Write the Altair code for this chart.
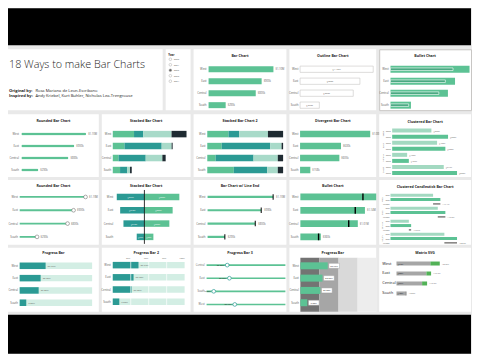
import altair as alt
import pandas as pd

# ------------------------------------------------------------------ data
regions = ["West", "East", "Central", "South"]
years = ["2020", "2021", "2022", "2023", "2024"]
selected_year = "2022"
main_title = "18 Ways to make Bar Charts"
credit_bold = ["Original by:", "Inspired by:"]
credit_names = ["Rosa Mariana de Leon-Escribano",
                "Andy Kriebel, Kurt Buhler, Nicholas Lea-Trengrouse"]

sales = [1100000, 900000, 800000, 290000]
profit = [1080000, 630000, 605000, 158000]
bullet_actual = [1100000, 965000, 850000, 320000]
bullet_target = [1390000, 1135000, 1010000, 360000]
stack_a = [213, 117, 57, 73]
stack_b = [93, 373, 273, 73]
stack_c = [283, 100, 167, 27]
stack_d = [150, 10, 33, 17]
pct_a = [28, 19, 11, 35]
pct_b = [14, 64, 50, 44]
pct_c = [38, 15, 32, 14]
pct_d = [20, 2, 7, 7]
div_neg = [277, 243, 210, 77]
div_pos = [350, 283, 250, 90]
clus_years = ["2022", "2023"]
clus_prev = [393, 450, 150, 517]
clus_curr = [560, 533, 167, 650]
candle_rows = ["2022", "2023", "Change"]
candle_prev = [427, 474, 184, 540]
candle_curr = [500, 550, 207, 667]
share = [35.79, 28.93, 26.20, 9.08]
grid_ticks = [25, 50, 75, 100]
band_from = [0, 25, 50, 75]
band_to = [25, 50, 75, 100]
matrix_prev = [340, 300, 257, 100]
matrix_curr = [434, 347, 307, 90]

# ------------------------------------------------------------------ style
FONT = "Segoe UI, Open Sans, DejaVu Sans, sans-serif"
INK = "#252423"
SUB = "#605e5c"
GREEN = "#5cc294"
TEAL = "#2b9a94"
PALE = "#a8dac9"
LIGHT = "#a3d9c1"
MINT = "#d3eee4"
DARK = "#1f2b32"
BG = "#e9e9e9"
BAND_COLORS = ["#737373", "#a6a6a6", "#d9d9d9", "#ededed"]

W = [91, 89, 93, 87, 92]
H = [61, 63, 65, 64]

reg_df = pd.DataFrame({"r": regions})


def Yp(rng, domain=None, field="r"):
    return alt.Y(f"{field}:N",
                 scale=alt.Scale(type="point", domain=domain if domain is not None else regions,
                                 range=rng, padding=0), axis=None)


def Xq(field, dom, rng):
    return alt.X(f"{field}:Q", scale=alt.Scale(domain=dom, range=rng, nice=False), axis=None)


def head(text, w, y=7.0):
    return alt.Chart(pd.DataFrame({"t": [text]})).mark_text(
        font=FONT, fontSize=3.6, fontWeight="bold", color=INK, baseline="middle"
    ).encode(text="t:N", x=alt.value(w / 2), y=alt.value(y))


def names(y, x, size=2.8, df=None, field="r", align="right", color=SUB, angle=None):
    kw = dict(font=FONT, fontSize=size, color=color, align=align, baseline="middle")
    if angle is not None:
        kw["angle"] = angle
    return alt.Chart(df if df is not None else reg_df).mark_text(**kw).encode(
        text=f"{field}:N", x=alt.value(x), y=y)


def vals(df, x, y, text, dx=2.0, size=2.6, color=SUB, align="left", fmt=None, clip=False):
    t = alt.Text(text, format=fmt) if fmt else alt.Text(text)
    return alt.Chart(df).mark_text(font=FONT, fontSize=size, color=color, align=align,
                                   baseline="middle", dx=dx, clip=clip).encode(x=x, y=y, text=t)


def panel(layers, w, h, stroke=None, indep_y=False):
    if stroke:
        vb = alt.ViewBackground(fill="white", stroke=stroke, strokeWidth=1)
    else:
        vb = alt.ViewBackground(fill="white")
    ch = alt.layer(*layers).properties(width=w, height=h, view=vb)
    if indep_y:
        ch = ch.resolve_scale(y="independent")
    return ch


def stack_df(cols, colors):
    rows = []
    for i, r in enumerate(regions):
        acc = 0
        for col, c in zip(cols, colors):
            rows.append({"r": r, "x0": acc, "x1": acc + col[i], "c": c})
            acc += col[i]
    return pd.DataFrame(rows)


sdf = pd.DataFrame({"r": regions, "v": sales})
SDOM = [0, 1100000]

# ================================================================== ROW 1
t_big = alt.Chart(pd.DataFrame({"t": [main_title]})).mark_text(
    font="Open Sans, DejaVu Sans, sans-serif", fontSize=10.8, fontWeight=300, color=INK, align="left",
    baseline="alphabetic"
).encode(text="t:N", x=alt.value(1), y=alt.value(18.5))
cred = pd.DataFrame({"b": credit_bold, "n": credit_names, "i": [0, 1]})
yc = alt.Y("i:O", scale=alt.Scale(type="point", domain=[0, 1], range=[41.5, 46.5], padding=0), axis=None)
c_bold = alt.Chart(cred).mark_text(font=FONT, fontSize=4.1, fontWeight="bold", color=INK,
                                   align="left", baseline="middle").encode(text="b:N", x=alt.value(1), y=yc)
c_norm = alt.Chart(cred).mark_text(font=FONT, fontSize=4.1, color=INK,
                                   align="left", baseline="middle").encode(text="n:N", x=alt.value(27.5), y=yc)
p_title = panel([t_big, c_bold, c_norm], 155, H[0])

ydf = pd.DataFrame({"y": years})
ydf["f"] = [INK if yv == selected_year else "white" for yv in years]
yy = Yp([10, 32], years, "y")
s_head = alt.Chart(pd.DataFrame({"t": ["Year"]})).mark_text(
    font=FONT, fontSize=2.8, fontWeight="bold", color=INK, align="left", baseline="middle"
).encode(text="t:N", x=alt.value(2.5), y=alt.value(5.5))
s_dots = alt.Chart(ydf).mark_point(filled=True, size=7, stroke="#8a8886", strokeWidth=0.5).encode(
    x=alt.value(4.7), y=yy, fill=alt.Fill("f:N", scale=None))
s_lab = names(yy, 8, size=2.4, df=ydf, field="y", align="left")
p_slicer = panel([s_head, s_dots, s_lab], 25, H[0])

y = Yp([20, 56]); x = Xq("v", SDOM, [15, 80])
p_bar = panel([head("Bar Chart", W[2]),
               alt.Chart(sdf).mark_bar(size=6, color=GREEN).encode(x=x, y=y),
               vals(sdf, x, y, "v:Q", fmt="$.3s"), names(y, 13)], W[2], H[0])

x = Xq("v", SDOM, [10.7, 84]); xm = Xq("m", SDOM, [10.7, 84])
p_outline = panel([head("Outline Bar Chart", W[3]),
                   alt.Chart(sdf).mark_bar(size=6.3, fill="white", stroke="#c8c6c4", strokeWidth=0.6).encode(x=x, y=y),
                   alt.Chart(sdf).transform_calculate(m="datum.v/2").mark_text(
                       font=FONT, fontSize=2.4, color=SUB, baseline="middle").encode(
                       x=xm, y=y, text=alt.Text("v:Q", format="$.3s")),
                   names(y, 9)], W[3], H[0])

bdf = pd.DataFrame({"r": regions, "a": bullet_actual, "t": bullet_target})
xt = Xq("t", SDOM, [11.3, 74]); xa = Xq("a", SDOM, [11.3, 74])
p_bullet1 = panel([head("Bullet Chart", W[4]),
                   alt.Chart(bdf).mark_bar(size=7, color=GREEN).encode(x=xt, y=y),
                   alt.Chart(bdf).mark_bar(size=2.6, fill="#4aa982", stroke="white", strokeWidth=0.6).encode(x=xa, y=y),
                   names(y, 9.5)], W[4], H[0], stroke="#c8c6c4")

row1 = alt.hconcat(p_title, p_slicer, p_bar, p_outline, p_bullet1, spacing=3, bounds="flush")

# ================================================================== ROW 2
y = Yp([20, 56])
x = Xq("v", SDOM, [13.3, 78.3])
p_round = panel([head("Rounded Bar Chart", W[0]),
                 alt.Chart(sdf).mark_bar(size=3, cornerRadius=1.5, color=GREEN).encode(x=x, y=y),
                 vals(sdf, x, y, "v:Q", fmt="$.3s"), names(y, 11)], W[0], H[1])

st = stack_df([stack_a, stack_b, stack_c, stack_d], [GREEN, TEAL, PALE, DARK])
x0 = Xq("x0", [0, 850], [11, 96])
p_stack = panel([head("Stacked Bar Chart", W[1]),
                 alt.Chart(st).mark_bar(size=6.5).encode(x=x0, x2="x1:Q", y=y,
                                                         color=alt.Color("c:N", scale=None)),
                 names(y, 9.5)], W[1], H[1])

st2 = stack_df([pct_a, pct_b, pct_c, pct_d], [GREEN, TEAL, PALE, DARK])
x0 = Xq("x0", [0, 100], [13.7, 89.7])
p_stack2 = panel([head("Stacked Bar Chart 2", W[2]),
                  alt.Chart(st2).mark_bar(size=6.5).encode(x=x0, x2="x1:Q", y=y,
                                                           color=alt.Color("c:N", scale=None)),
                  names(y, 12)], W[2], H[1])

pdf_ = pd.DataFrame({"r": regions, "v": profit})
x = Xq("v", [0, 1080000], [10.7, 81])
p_div = panel([head("Divergent Bar Chart", W[3]),
               alt.Chart(pdf_).mark_bar(size=6.5, color=GREEN).encode(x=x, y=y),
               vals(pdf_, x, y, "v:Q", fmt="$.3s"), names(y, 9)], W[3], H[1])

rows = []
for i, r in enumerate(regions):
    rows.append({"r": r, "yr": clus_years[0], "k": f"{r}|{clus_years[0]}", "v": clus_prev[i], "c": LIGHT})
    rows.append({"r": r, "yr": clus_years[1], "k": f"{r}|{clus_years[1]}", "v": clus_curr[i], "c": GREEN})
cdf = pd.DataFrame(rows)
yk = Yp([16.5, 59], list(cdf.k), "k")
x = Xq("v", [0, 1000], [13, 113])
p_clus = panel([head("Clustered Bar Chart", W[4], 7.5),
                alt.Chart(cdf).mark_bar(size=4).encode(x=x, y=yk, color=alt.Color("c:N", scale=None)),
                alt.Chart(cdf).transform_calculate(lab="'$' + datum.v + 'K'").mark_text(
                    font=FONT, fontSize=2.2, color=SUB, align="left", baseline="middle", dx=2).encode(
                    x=x, y=yk, text="lab:N"),
                names(yk, 11.5, size=2.2, df=cdf, field="yr"),
                names(Yp([19.5, 55.9]), 3.5, size=2.3, angle=270, align="center")],
               W[4], H[1], indep_y=True)

row2 = alt.hconcat(p_round, p_stack, p_stack2, p_div, p_clus, spacing=3, bounds="flush")

# ================================================================== ROW 3
y = Yp([17, 57])
x = Xq("v", SDOM, [11.7, 77.7])
p_lolli = panel([head("Rounded Bar Chart", W[0], 6),
                 alt.Chart(sdf).mark_bar(size=1.8, color=GREEN).encode(x=x, y=y),
                 alt.Chart(sdf).mark_point(filled=True, fill="white", stroke=SUB, strokeWidth=0.5,
                                           size=14, opacity=1).encode(x=x, y=y),
                 vals(sdf, x, y, "v:Q", fmt="$.3s", dx=3.5), names(y, 10)], W[0], H[2])

drows = []
for i, r in enumerate(regions):
    drows.append({"r": r, "x0": -div_neg[i], "x1": 0, "c": TEAL, "lab": f"${div_neg[i]}K"})
    drows.append({"r": r, "x0": 0, "x1": div_pos[i], "c": GREEN, "lab": f"${div_pos[i]}K"})
ddf = pd.DataFrame(drows)
DDOM, DRNG = [-400, 500], [2.7, 92.7]
p_dstack = panel([head("Stacked Bar Chart", W[1], 6),
                  alt.Chart(ddf).mark_bar(size=6.5).encode(x=Xq("x0", DDOM, DRNG), x2="x1:Q", y=y,
                                                           color=alt.Color("c:N", scale=None)),
                  alt.Chart(ddf).transform_calculate(m="(datum.x0 + datum.x1)/2").mark_text(
                      font=FONT, fontSize=2.2, color="white", baseline="middle").encode(
                      x=Xq("m", DDOM, DRNG), y=y, text="lab:N"),
                  alt.Chart(pd.DataFrame({"z": [0]})).mark_rule(color="black", strokeWidth=0.8).encode(
                      x=Xq("z", DDOM, DRNG), y=alt.value(10), y2=alt.value(64)),
                  names(y, 11.5)], W[1], H[2])

x = Xq("v", SDOM, [14, 79.7])
p_lineend = panel([head("Bar Chart w/ Line End", W[2], 6),
                   alt.Chart(sdf).mark_bar(size=2.2, color=GREEN).encode(x=x, y=y),
                   alt.Chart(sdf).mark_tick(color="black", thickness=1, size=5.5, opacity=1).encode(x=x, y=y),
                   vals(sdf, x, y, "v:Q", fmt="$.3s", dx=3), names(y, 12)], W[2], H[2])

xt = Xq("t", SDOM, [11, 73.7]); xa = Xq("a", SDOM, [11, 73.7])
p_bullet2 = panel([head("Bullet Chart", W[3], 6),
                   alt.Chart(bdf).mark_bar(size=6.8, color=GREEN, clip=True).encode(x=xt, y=y),
                   alt.Chart(bdf).mark_tick(color="black", thickness=1.4, size=6.8, opacity=1).encode(x=xa, y=y),
                   vals(bdf, xt, y, "t:Q", fmt="$.3s", clip=True), names(y, 9)], W[3], H[2])

krows, crow = [], []
for i, r in enumerate(regions):
    krows.append({"r": r, "k": f"{r}|{candle_rows[0]}", "v": candle_prev[i], "c": LIGHT})
    krows.append({"r": r, "k": f"{r}|{candle_rows[1]}", "v": candle_curr[i], "c": GREEN})
    crow.append({"r": r, "k": f"{r}|{candle_rows[2]}", "x0": candle_prev[i], "x1": candle_curr[i],
                 "lab": f"+{(candle_curr[i] - candle_prev[i]) / candle_prev[i] * 100:.1f}%"})
kdf = pd.DataFrame(krows); chg = pd.DataFrame(crow)
keys = [f"{r}|{c}" for r in regions for c in candle_rows]
kl = pd.DataFrame({"k": keys, "lab": [c for r in regions for c in candle_rows]})
yk = Yp([15.3, 63], keys, "k")
x = Xq("v", [0, 1000], [11.3, 111.3]); xc = Xq("x0", [0, 1000], [11.3, 111.3]); xc1 = Xq("x1", [0, 1000], [11.3, 111.3])
p_candle = panel([head("Clustered Candlestick Bar Chart", W[4], 7.5),
                  alt.Chart(kdf).mark_bar(size=3).encode(x=x, y=yk, color=alt.Color("c:N", scale=None)),
                  alt.Chart(chg).mark_rule(color="#605e5c", strokeWidth=1.2).encode(x=xc, x2="x1:Q", y=yk),
                  alt.Chart(chg).mark_text(font=FONT, fontSize=2.1, color=SUB, align="left",
                                           baseline="middle", dx=2).encode(x=xc1, y=yk, text="lab:N"),
                  names(yk, 10.5, size=1.9, df=kl, field="lab"),
                  names(Yp([19.6, 58.7]), 2.6, size=2.2, angle=270, align="center")],
                 W[4], H[2], indep_y=True)

row3 = alt.hconcat(p_lolli, p_dstack, p_lineend, p_bullet2, p_candle, spacing=3, bounds="flush")

# ================================================================== ROW 4
shdf = pd.DataFrame({"r": regions, "s": share})
shdf["full"] = 100
shdf["lab"] = [f"{s:.2f}%" for s in share]

y = Yp([18, 55])
x = Xq("s", [0, 100], [11.7, 84.3]); xf = Xq("full", [0, 100], [11.7, 84.3])
p_prog1 = panel([head("Progress Bar", W[0], 5.5),
                 alt.Chart(shdf).mark_bar(size=6.5, color=MINT).encode(x=xf, y=y),
                 alt.Chart(shdf).mark_bar(size=6.5, color=TEAL).encode(x=x, y=y),
                 vals(shdf, x, y, "lab:N", size=2.4), names(y, 10)], W[0], H[3])

y = Yp([17.3, 54])
x = Xq("s", [0, 100], [11, 83]); xf = Xq("full", [0, 100], [11, 83]); xg = Xq("g", [0, 100], [11, 83])
gdf = pd.DataFrame({"g": grid_ticks, "lab": [f"{g}%" for g in grid_ticks]})
p_prog2 = panel([head("Progress Bar 2", W[1], 5.5),
                 alt.Chart(shdf).mark_bar(size=6.5, color=MINT).encode(x=xf, y=y),
                 alt.Chart(shdf).mark_bar(size=6.5, color=TEAL).encode(x=x, y=y),
                 alt.Chart(gdf[gdf.g < 100]).mark_rule(color="white", strokeWidth=0.7).encode(
                     x=xg, y=alt.value(13), y2=alt.value(58)),
                 alt.Chart(gdf).mark_text(font=FONT, fontSize=2.2, color=SUB, dx=-2.5, baseline="middle").encode(
                     x=xg, y=alt.value(10.5), text="lab:N"),
                 vals(shdf, x, y, "lab:N", size=2.4), names(y, 9)], W[1], H[3])

y = Yp([17.3, 56.7], sorted(regions))
x = Xq("s", [0, 100], [13, 92]); xf = Xq("full", [0, 100], [13, 92])
p_prog3 = panel([head("Progress Bar 3", W[2], 5.5),
                 alt.Chart(shdf).mark_bar(size=1.6, color=GREEN).encode(x=xf, y=y),
                 alt.Chart(shdf).mark_point(filled=True, fill="white", stroke=TEAL, strokeWidth=0.7,
                                            size=14, opacity=1).encode(x=x, y=y),
                 vals(shdf, x, y, "lab:N", size=2.2, dx=-3, align="right", color=INK),
                 names(y, 11, size=2.6)], W[2], H[3])

y = Yp([18, 55])
P4 = ([0, 100], [11, 87.5])
bdf4 = pd.DataFrame({"b0": band_from, "b1": band_to, "c": BAND_COLORS})
box_df = shdf.copy()
box_df["bx"] = box_df["s"] + 8.5
p_prog4 = panel([head("Progress Bar", W[3], 5.5),
                 alt.Chart(bdf4).mark_rect().encode(x=Xq("b0", *P4), x2="b1:Q", y=alt.value(10), y2=alt.value(64),
                                                    color=alt.Color("c:N", scale=None)),
                 alt.Chart(shdf).mark_bar(size=7, color=GREEN).encode(x=Xq("s", *P4), y=y),
                 alt.Chart(box_df).mark_point(shape="M-1,-0.47L1,-0.47L1,0.47L-1,0.47Z", size=114,
                                              filled=True, fill="white", stroke="#9a9a9a",
                                              strokeWidth=0.4, opacity=1).encode(x=Xq("bx", *P4), y=y),
                 alt.Chart(box_df).mark_text(font=FONT, fontSize=2.3, color=INK, baseline="middle").encode(
                     x=Xq("bx", *P4), y=y, text="lab:N"),
                 names(y, 9.5)], W[3], H[3])

mrows = []
for i, r in enumerate(regions):
    p, c = matrix_prev[i], matrix_curr[i]
    mrows.append({"r": r, "base": min(p, c), "p": p, "c": c, "top": max(p, c),
                  "lab": f"${p}K", "chg": f"{(c - p) / p * 100:+.1f}%"})
mdf = pd.DataFrame(mrows)
up = mdf[mdf.c >= mdf.p]; down = mdf[mdf.c < mdf.p]
M = ([0, 1000], [17.3, 117.3])
y = Yp([15.7, 45.7])
p_matrix = panel([head("Matrix SVG", W[4], 4.7),
                  alt.Chart(mdf).mark_bar(size=4, color="#a6a6a6").encode(x=Xq("base", *M), y=y),
                  alt.Chart(up).mark_bar(size=4, color="#52b257").encode(x=Xq("p", *M), x2="c:Q", y=y),
                  alt.Chart(down).mark_bar(size=4, color="#6e6e6e").encode(x=Xq("c", *M), x2="p:Q", y=y),
                  alt.Chart(mdf).mark_text(font=FONT, fontSize=2.0, color=INK, align="left",
                                           baseline="middle", dx=1).encode(x=alt.value(17.3), y=y, text="lab:N"),
                  vals(mdf, Xq("top", *M), y, "chg:N", size=2.2),
                  names(y, 3, size=4, align="left", color=INK)], W[4], H[3])

row4 = alt.hconcat(p_prog1, p_prog2, p_prog3, p_prog4, p_matrix, spacing=3, bounds="flush")


# ================================================================== frame
def band(h):
    return alt.Chart(pd.DataFrame({"t": [""]})).mark_text().encode(text="t:N").properties(
        width=464, height=h, view=alt.ViewBackground(fill="black"))


chart = alt.vconcat(band(37), row1, row2, row3, row4, band(39), spacing=3).properties(
    padding=0, background=BG
).configure_view(strokeWidth=0)

chart.save("out.html", embed_options={"renderer": "svg", "actions": False})
